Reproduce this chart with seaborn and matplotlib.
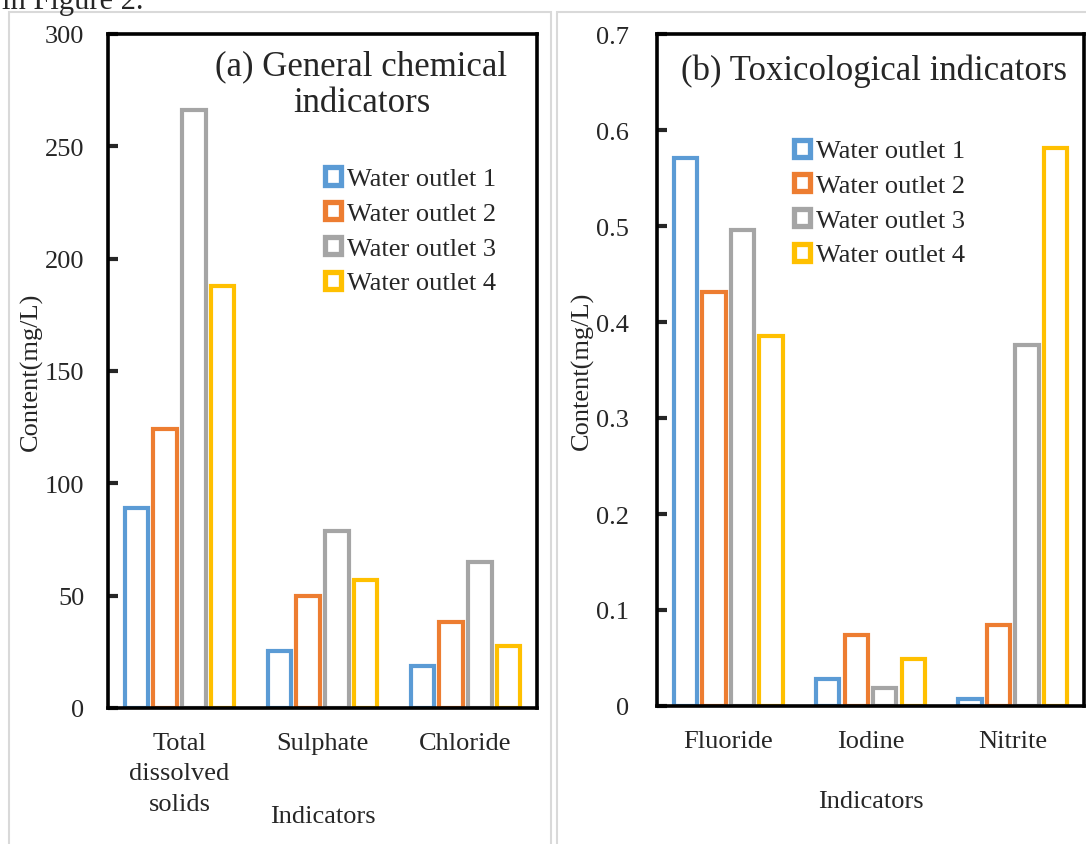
import numpy as np
import pandas as pd
import seaborn as sns
import matplotlib
matplotlib.use("Agg")
from matplotlib import pyplot as plt
from matplotlib.patches import Patch, Rectangle

# data
outlets = ['Water outlet 1', 'Water outlet 2', 'Water outlet 3', 'Water outlet 4']
colors = ['#5B9BD5', '#ED7D31', '#A5A5A5', '#FFC000']

chem_labels = ['Total\ndissolved\nsolids', 'Sulphate', 'Chloride']
chem_outlet1 = [89, 25.5, 18.5]
chem_outlet2 = [124, 50, 38.5]
chem_outlet3 = [266, 79, 65]
chem_outlet4 = [188, 57, 27.5]

tox_labels = ['Fluoride', 'Iodine', 'Nitrite']
tox_outlet1 = [0.571, 0.028, 0.007]
tox_outlet2 = [0.431, 0.074, 0.084]
tox_outlet3 = [0.496, 0.019, 0.376]
tox_outlet4 = [0.385, 0.049, 0.581]


def long_table(labels, series):
    rows = []
    for name, vals in zip(outlets, series):
        for lab, v in zip(labels, vals):
            rows.append({'indicator': lab, 'outlet': name, 'value': v})
    return pd.DataFrame(rows)


sns.set_style('white')
plt.rcParams['font.family'] = ['Liberation Serif', 'DejaVu Serif']

W, H = 1086, 845
fig = plt.figure(figsize=(W / 100, H / 100), dpi=100)

# panel frames (light grey boxes)
fig.add_artist(Rectangle((9 / W, -0.05), (551 - 9) / W, 1.05 - 13 / H,
                         transform=fig.transFigure, fill=False, ec='#D9D9D9', lw=1.5))
fig.add_artist(Rectangle((557 / W, -0.05), 0.5, 1.05 - 13 / H,
                         transform=fig.transFigure, fill=False, ec='#D9D9D9', lw=1.5))
fig.text(2 / W, 1 - 9 / H, 'in Figure 2.', fontsize=22, va='baseline', ha='left')

ax1 = fig.add_axes([108 / W, 136 / H, 429 / W, 674 / H])
ax2 = fig.add_axes([657 / W, 138 / H, 427 / W, 672 / H])

fs = 19
panels = [
    (ax1, chem_labels, [chem_outlet1, chem_outlet2, chem_outlet3, chem_outlet4],
     (0, 300), np.arange(0, 301, 50), ['(a) General chemical', 'indicators'],
     [(0.59, 0.9525), (0.592, 0.899)], (0.506, 0.802), lambda v: f'{v:.0f}',
     -0.151, -0.160, 17),
    (ax2, tox_labels, [tox_outlet1, tox_outlet2, tox_outlet3, tox_outlet4],
     (0, 0.7), np.arange(0, 0.71, 0.1), ['(b) Toxicological indicators'],
     [(0.508, 0.946)], (0.321, 0.843), lambda v: '0' if v == 0 else f'{v:.1f}',
     -0.148, -0.141, 20),
]

for ax, labels, series, ylim, yticks, titles, tpos, lpos, fmt, ylab_x, xlab_y, ypad in panels:
    df = long_table(labels, series)
    sns.barplot(data=df, x='indicator', y='value', hue='outlet', palette=colors,
                fill=False, linewidth=3, gap=0.18, width=0.8, ax=ax, legend=False)
    ax.set_xlim(-0.5, 2.5)
    ax.set_ylim(*ylim)
    ax.set_yticks(yticks)
    ax.set_yticklabels([fmt(v) for v in yticks])
    ax.set_xticks(range(3))
    ax.set_xticklabels(labels, linespacing=1.5)
    ax.set_xticks([0.5, 1.5], minor=True)
    ax.tick_params(axis='x', which='major', length=0, pad=17, labelsize=fs)
    ax.tick_params(axis='x', which='minor', direction='in', length=7, width=3, color='black')
    ax.tick_params(axis='y', direction='in', length=7, width=3, pad=ypad,
                   labelsize=fs, left=True)
    for s in ax.spines.values():
        s.set_visible(True)
        s.set_color('black')
        s.set_linewidth(2.6)
    ax.set_ylabel('Content(mg/L)', fontsize=fs)
    ax.yaxis.set_label_coords(ylab_x, 0.5)
    ax.set_xlabel('Indicators', fontsize=fs, va='center')
    ax.xaxis.set_label_coords(0.5, xlab_y)
    for t, (tx, ty) in zip(titles, tpos):
        ax.text(tx, ty, t, transform=ax.transAxes, ha='center', va='center', fontsize=25)
    handles = [Patch(facecolor='white', edgecolor=c, linewidth=3.8) for c in colors]
    ax.legend(handles, outlets, loc='upper left', bbox_to_anchor=lpos, frameon=False,
              fontsize=fs, handlelength=0.62, handleheight=0.62, handletextpad=0.2,
              labelspacing=0.45, borderaxespad=0, borderpad=0)

fig.savefig('out.png', dpi=100)
